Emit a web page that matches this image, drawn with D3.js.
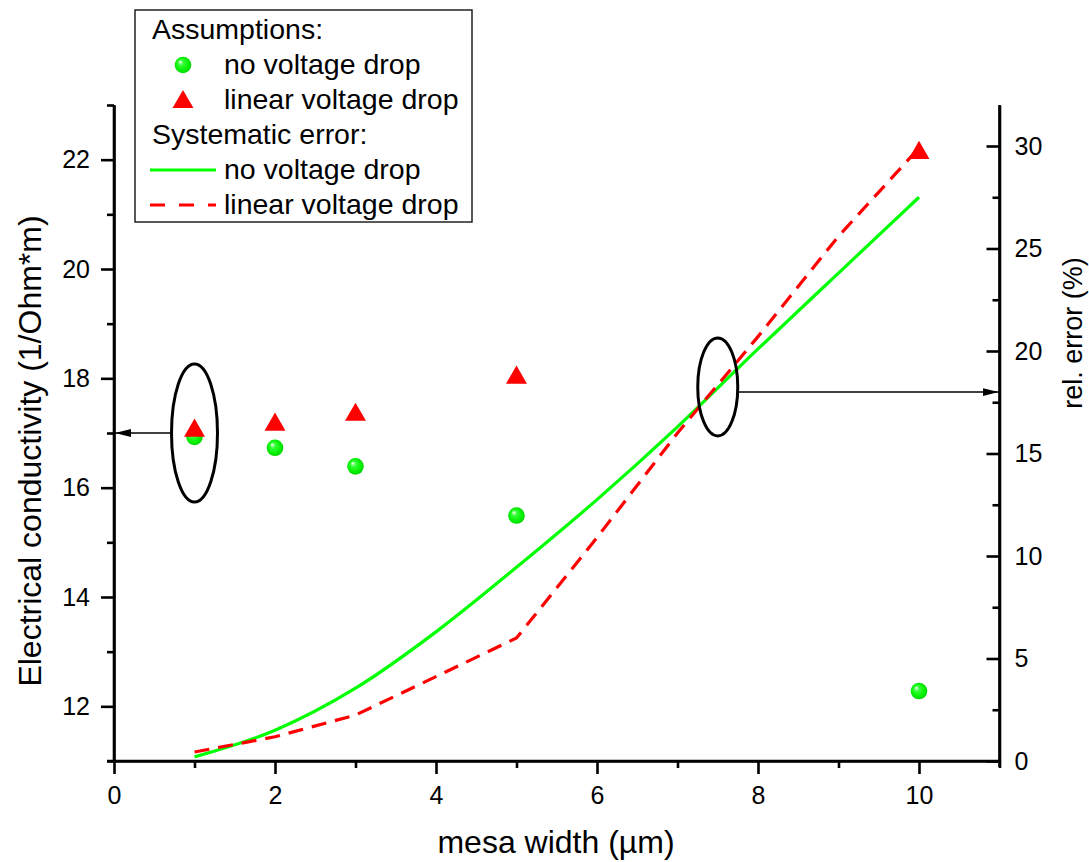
<!DOCTYPE html>
<html>
<head>
<meta charset="utf-8">
<script src="https://cdn.jsdelivr.net/npm/d3@7"></script>
<style>
  html, body { margin: 0; padding: 0; background: #fff; }
  svg text { font-family: "Liberation Sans", Arial, sans-serif; fill: #000; }
</style>
</head>
<body>
<svg id="chart" width="1089" height="862"></svg>
<script>
// ---- data ----
const markerX = [1, 2, 3, 5, 10];
const condNoDrop = [16.93, 16.73, 16.39, 15.49, 12.28];
const condLinearDrop = [17.08, 17.19, 17.37, 18.05, 22.16];

const errX = [1, 2, 3, 4, 5, 6, 7, 8, 9, 10];
const errNoDrop = [0.2, 1.5, 3.55, 6.3, 9.45, 12.75, 16.3, 20.1, 23.8, 27.5];
const errLinearX = [1, 2, 3, 5, 6, 7, 8, 9, 10];
const errLinearDrop = [0.44, 1.18, 2.24, 6.0, 10.9, 16.0, 20.7, 25.6, 29.9];

const xMajor = [0, 2, 4, 6, 8, 10];
const xMinor = [1, 3, 5, 7, 9, 11];
const yLeftMajor = [12, 14, 16, 18, 20, 22];
const yLeftMinor = [11, 13, 15, 17, 19, 21, 23];
const yRightMajor = [0, 5, 10, 15, 20, 25, 30];
const yRightMinor = [2.5, 7.5, 12.5, 17.5, 22.5, 27.5];

const legendRows = [
  {label: "Assumptions:", type: "header"},
  {label: "no voltage drop", type: "sphere"},
  {label: "linear voltage drop", type: "triangle"},
  {label: "Systematic error:", type: "header"},
  {label: "no voltage drop", type: "solid"},
  {label: "linear voltage drop", type: "dashed"}
];

// ---- layout ----
const GREEN = "#00ff00", RED = "#ff0000";
const FONT = '"Liberation Sans", Arial, sans-serif';
const svg = d3.select("#chart");
const x = d3.scaleLinear().domain([0, 11]).range([114, 999.5]);
const yL = d3.scaleLinear().domain([11, 23]).range([761, 105]);
const yR = d3.scaleLinear().domain([0, 32]).range([761, 105]);

const defs = svg.append("defs");
const grad = defs.append("radialGradient").attr("id", "sphere")
  .attr("cx", "50%").attr("cy", "50%").attr("r", "55%")
  .attr("fx", "32%").attr("fy", "30%");
grad.append("stop").attr("offset", "0%").attr("stop-color", "#f4fff4");
grad.append("stop").attr("offset", "30%").attr("stop-color", "#33ff33");
grad.append("stop").attr("offset", "75%").attr("stop-color", "#00ee00");
grad.append("stop").attr("offset", "100%").attr("stop-color", "#00c800");

function styleAxis(g) {
  g.selectAll(".domain").attr("stroke", "#000").attr("stroke-width", 2.6);
  g.selectAll(".tick line").attr("stroke", "#000").attr("stroke-width", 2.6);
  g.selectAll(".tick text").style("font-size", "25px")
    .style("font-family", FONT).attr("fill", "#000");
}

// x axis
const gx = svg.append("g").attr("transform", `translate(0,${yL(11)})`)
  .call(d3.axisBottom(x).tickValues(xMajor).tickSize(13).tickSizeOuter(0).tickPadding(12).tickFormat(d3.format("d")));
styleAxis(gx);
const gxm = svg.append("g").attr("transform", `translate(0,${yL(11)})`)
  .call(d3.axisBottom(x).tickValues(xMinor).tickSize(7).tickSizeOuter(0).tickFormat(""));
styleAxis(gxm);

// left y axis
const gl = svg.append("g").attr("transform", `translate(${x(0)},0)`)
  .call(d3.axisLeft(yL).tickValues(yLeftMajor).tickSize(13).tickSizeOuter(0).tickPadding(11).tickFormat(d3.format("d")));
styleAxis(gl);
const glm = svg.append("g").attr("transform", `translate(${x(0)},0)`)
  .call(d3.axisLeft(yL).tickValues(yLeftMinor).tickSize(7).tickSizeOuter(0).tickFormat(""));
styleAxis(glm);

// right y axis (ticks pointing inward)
const gr = svg.append("g").attr("transform", `translate(${x(11)},0)`)
  .call(d3.axisRight(yR).tickValues(yRightMajor).tickSize(-13).tickSizeOuter(0).tickPadding(15).tickFormat(d3.format("d")));
styleAxis(gr);
const grm = svg.append("g").attr("transform", `translate(${x(11)},0)`)
  .call(d3.axisRight(yR).tickValues(yRightMinor).tickSize(-7).tickSizeOuter(0).tickFormat(""));
styleAxis(grm);
gr.select(".domain").attr("d", `M0,${yR(32)}V${yR(0) + 6}`);
gl.select(".domain").attr("d", `M0,${yL(23)}V${yL(11)}`);
gx.select(".domain").attr("d", `M${x(0) - 7},0H${x(11)}`);

// axis titles
svg.append("text").attr("x", 556).attr("y", 853).attr("text-anchor", "middle")
  .style("font-size", "32px").text("mesa width (µm)");
svg.append("text").attr("transform", `translate(41,451) rotate(-90)`).attr("text-anchor", "middle")
  .style("font-size", "32px").text("Electrical conductivity (1/Ohm*m)");
svg.append("text").attr("transform", `translate(1082,333) rotate(-90)`).attr("text-anchor", "middle")
  .style("font-size", "27px").text("rel. error (%)");

// lines (right axis)
const lineNo = d3.line().x((d, i) => x(errX[i])).y(d => yR(d)).curve(d3.curveMonotoneX);
svg.append("path").attr("d", lineNo(errNoDrop)).attr("fill", "none")
  .attr("stroke", GREEN).attr("stroke-width", 3.2);
const lineLin = d3.line().x((d, i) => x(errLinearX[i])).y(d => yR(d));
svg.append("path").attr("d", lineLin(errLinearDrop)).attr("fill", "none")
  .attr("stroke", RED).attr("stroke-width", 3.2).attr("stroke-dasharray", "15,9");

// markers (left axis)
const tri = d3.symbol().type(d3.symbolTriangle).size(190);
svg.append("g").selectAll("circle").data(condNoDrop).join("circle")
  .attr("cx", (d, i) => x(markerX[i])).attr("cy", d => yL(d)).attr("r", 8.3)
  .attr("fill", "url(#sphere)");
svg.append("g").selectAll("path").data(condLinearDrop).join("path")
  .attr("d", tri)
  .attr("transform", (d, i) => `translate(${x(markerX[i])},${yL(d) + 2})`)
  .attr("fill", RED);

// ellipses and arrows
defs.append("marker").attr("id", "arrow").attr("viewBox", "0 0 16 8")
  .attr("refX", 16).attr("refY", 4).attr("markerWidth", 16).attr("markerHeight", 8)
  .attr("markerUnits", "userSpaceOnUse").attr("orient", "auto")
  .append("path").attr("d", "M0,0L16,4L0,8Z").attr("fill", "#000");

const e1 = {cx: x(1), cy: yL(17.0), rx: 23, ry: 69};
svg.append("ellipse").attr("cx", e1.cx).attr("cy", e1.cy).attr("rx", e1.rx).attr("ry", e1.ry)
  .attr("fill", "none").attr("stroke", "#000").attr("stroke-width", 3);
svg.append("line").attr("x1", e1.cx - e1.rx).attr("y1", yL(17.0)).attr("x2", x(0) + 1).attr("y2", yL(17.0))
  .attr("stroke", "#000").attr("stroke-width", 1.3).attr("marker-end", "url(#arrow)");

const e2 = {cx: x(7.5), cy: yR(18.25), rx: 20, ry: 49};
svg.append("ellipse").attr("cx", e2.cx).attr("cy", e2.cy).attr("rx", e2.rx).attr("ry", e2.ry)
  .attr("fill", "none").attr("stroke", "#000").attr("stroke-width", 3);
svg.append("line").attr("x1", e2.cx + e2.rx).attr("y1", yR(18)).attr("x2", x(11) - 1).attr("y2", yR(18))
  .attr("stroke", "#000").attr("stroke-width", 1.3).attr("marker-end", "url(#arrow)");

// legend
const leg = svg.append("g");
leg.append("rect").attr("x", 135).attr("y", 10).attr("width", 337).attr("height", 212)
  .attr("fill", "#fff").attr("stroke", "#222").attr("stroke-width", 1.5);
legendRows.forEach((r, i) => {
  const base = 39 + i * 35;
  const mid = base - 9;
  if (r.type === "header") {
    leg.append("text").attr("x", 152).attr("y", base).style("font-size", "28.5px").text(r.label);
    return;
  }
  if (r.type === "sphere") {
    leg.append("circle").attr("cx", 183).attr("cy", mid).attr("r", 8.3).attr("fill", "url(#sphere)");
  } else if (r.type === "triangle") {
    leg.append("path").attr("d", tri).attr("transform", `translate(183,${mid + 2})`).attr("fill", RED);
  } else if (r.type === "solid") {
    leg.append("line").attr("x1", 150).attr("x2", 216).attr("y1", mid).attr("y2", mid)
      .attr("stroke", GREEN).attr("stroke-width", 3.2);
  } else if (r.type === "dashed") {
    leg.append("line").attr("x1", 150).attr("x2", 216).attr("y1", mid).attr("y2", mid)
      .attr("stroke", RED).attr("stroke-width", 3.2).attr("stroke-dasharray", "15,14");
  }
  leg.append("text").attr("x", 224).attr("y", base).style("font-size", "28.5px").text(r.label);
});
</script>
</body>
</html>
